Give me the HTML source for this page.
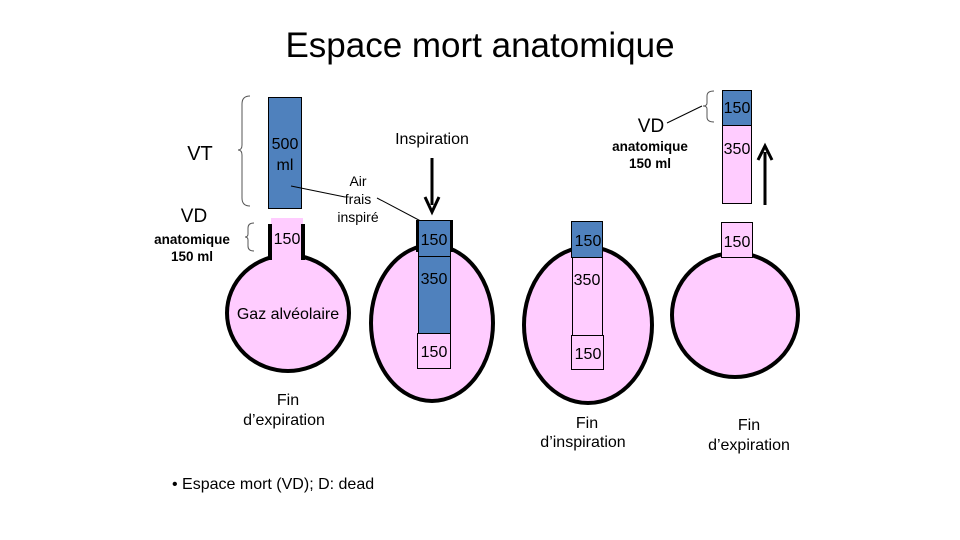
<!DOCTYPE html>
<html><head><meta charset="utf-8"><style>
html,body{margin:0;padding:0;background:#fff}
svg{display:block}
text{font-family:"Liberation Sans",sans-serif;fill:#000}
</style></head><body>
<svg width="960" height="540" viewBox="0 0 960 540" xmlns="http://www.w3.org/2000/svg">
<text x="480" y="57" font-size="35" text-anchor="middle">Espace mort anatomique</text>

<!-- Flask 1 -->
<ellipse cx="288" cy="313" rx="61" ry="58" fill="#FFCCFF" stroke="#000" stroke-width="4"/>
<rect x="271" y="218" width="32" height="42" fill="#FFCCFF"/>
<line x1="270" y1="224" x2="270" y2="260" stroke="#000" stroke-width="4"/>
<line x1="303" y1="224" x2="303" y2="260" stroke="#000" stroke-width="4"/>
<text x="287" y="244" font-size="16" text-anchor="middle">150</text>
<text x="288" y="319" font-size="16" text-anchor="middle">Gaz alvéolaire</text>
<rect x="268.5" y="97.5" width="33" height="111" fill="#4F81BD" stroke="#000" stroke-width="1"/>
<text x="285" y="149" font-size="16" text-anchor="middle">500</text>
<text x="285" y="170" font-size="16" text-anchor="middle">ml</text>
<path d="M250 96 Q242 96 242 104 L242 145 Q242 150 238 150 Q242 150 242 155 L242 198 Q242 206 250 206" fill="none" stroke="#555" stroke-width="1"/>
<text x="200" y="160" font-size="20" text-anchor="middle">VT</text>
<text x="194" y="222" font-size="19" text-anchor="middle">VD</text>
<text x="192" y="244" font-size="13.5" font-weight="bold" text-anchor="middle">anatomique</text>
<text x="192" y="261" font-size="13.5" font-weight="bold" text-anchor="middle">150 ml</text>
<path d="M254 223 Q248 223 248 228 L248 234 Q248 237 245 237 Q248 237 248 240 L248 246 Q248 251 254 251" fill="none" stroke="#555" stroke-width="1"/>
<line x1="291" y1="186" x2="345" y2="197" stroke="#000" stroke-width="1"/>
<line x1="377" y1="198" x2="432" y2="227" stroke="#000" stroke-width="1"/>
<text x="358" y="186" font-size="14" text-anchor="middle" fill="#333">Air</text>
<text x="358" y="204" font-size="14" text-anchor="middle">frais</text>
<text x="358" y="222" font-size="14" text-anchor="middle">inspiré</text>
<text x="288" y="405" font-size="16" text-anchor="middle">Fin</text>
<text x="284" y="425" font-size="16" text-anchor="middle">d’expiration</text>

<!-- Flask 2 -->
<ellipse cx="432" cy="323" rx="61" ry="78" fill="#FFCCFF" stroke="#000" stroke-width="4"/>
<line x1="418" y1="220" x2="418" y2="252" stroke="#000" stroke-width="4"/>
<line x1="451" y1="220" x2="451" y2="252" stroke="#000" stroke-width="4"/>
<rect x="418.5" y="220.5" width="32" height="36" fill="#4F81BD" stroke="#000" stroke-width="1"/>
<rect x="418.5" y="256.5" width="32" height="77" fill="#4F81BD" stroke="#000" stroke-width="1"/>
<rect x="417.5" y="333.5" width="33" height="35" fill="#FFCCFF" stroke="#000" stroke-width="1"/>
<text x="434" y="245" font-size="16" text-anchor="middle">150</text>
<text x="434" y="284" font-size="16" text-anchor="middle">350</text>
<text x="434" y="357" font-size="16" text-anchor="middle">150</text>
<text x="432" y="144" font-size="16" text-anchor="middle">Inspiration</text>
<line x1="432" y1="158" x2="432" y2="205" stroke="#000" stroke-width="3"/>
<path d="M425 197 L432 212 L439 197" fill="none" stroke="#000" stroke-width="3"/>

<!-- Flask 3 -->
<ellipse cx="588" cy="325" rx="64" ry="78" fill="#FFCCFF" stroke="#000" stroke-width="4"/>
<rect x="571.5" y="221.5" width="31" height="36" fill="#4F81BD" stroke="#000" stroke-width="1"/>
<rect x="572.5" y="257.5" width="30" height="78" fill="#FFCCFF" stroke="#000" stroke-width="1"/>
<rect x="571.5" y="335.5" width="32" height="34" fill="#FFCCFF" stroke="#000" stroke-width="1"/>
<text x="588" y="246" font-size="16" text-anchor="middle">150</text>
<text x="587" y="285" font-size="16" text-anchor="middle">350</text>
<text x="588" y="359" font-size="16" text-anchor="middle">150</text>
<text x="587" y="428" font-size="16" text-anchor="middle">Fin</text>
<text x="583" y="447" font-size="16" text-anchor="middle">d’inspiration</text>

<!-- Flask 4 -->
<ellipse cx="735" cy="315" rx="63" ry="62" fill="#FFCCFF" stroke="#000" stroke-width="4"/>
<rect x="721.5" y="222.5" width="31" height="35" fill="#FFCCFF" stroke="#000" stroke-width="1"/>
<text x="737" y="247" font-size="16" text-anchor="middle">150</text>
<rect x="722.5" y="90.5" width="29" height="35" fill="#4F81BD" stroke="#000" stroke-width="1"/>
<rect x="722.5" y="125.5" width="29" height="78" fill="#FFCCFF" stroke="#000" stroke-width="1"/>
<text x="737" y="113" font-size="16" text-anchor="middle">150</text>
<text x="737" y="154" font-size="16" text-anchor="middle">350</text>
<line x1="765" y1="205" x2="765" y2="152" stroke="#000" stroke-width="3"/>
<path d="M758 160 L765 146 L772 160" fill="none" stroke="#000" stroke-width="3"/>
<path d="M714 91 Q707 91 707 96 L707 103 Q707 106 703 106 Q707 106 707 109 L707 117 Q707 122 714 122" fill="none" stroke="#555" stroke-width="1"/>
<line x1="667" y1="123" x2="702" y2="106" stroke="#000" stroke-width="1"/>
<text x="651" y="132" font-size="19" text-anchor="middle">VD</text>
<text x="650" y="151" font-size="13.5" font-weight="bold" text-anchor="middle">anatomique</text>
<text x="650" y="168" font-size="13.5" font-weight="bold" text-anchor="middle">150 ml</text>
<text x="749" y="430" font-size="16" text-anchor="middle">Fin</text>
<text x="749" y="450" font-size="16" text-anchor="middle">d’expiration</text>

<text x="172" y="489" font-size="16">• Espace mort (VD); D: dead</text>
</svg>
</body></html>
